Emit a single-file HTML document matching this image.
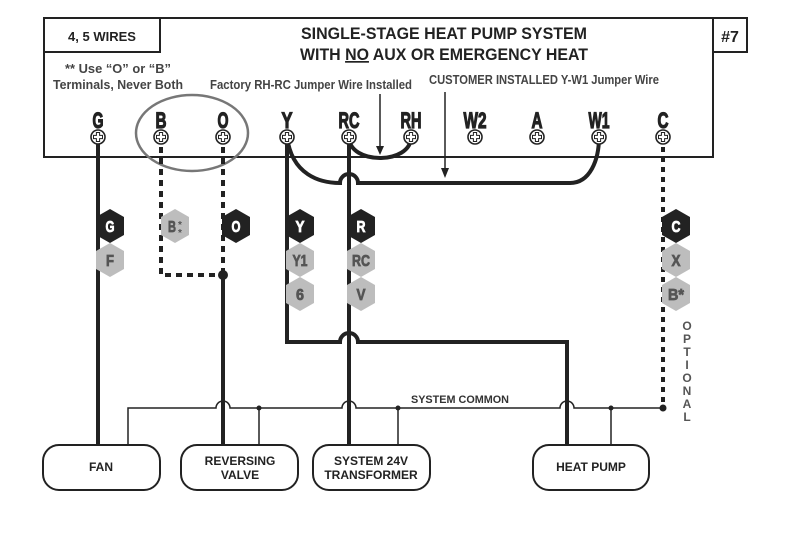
<!DOCTYPE html>
<html><head><style>
html,body{margin:0;padding:0;background:#fff;}
svg{display:block;}
text{font-family:"Liberation Sans",sans-serif;font-weight:bold;}
</style></head><body>
<svg width="812" height="538" viewBox="0 0 812 538" xmlns="http://www.w3.org/2000/svg">
<defs>
<g id="screw"><circle r="7" fill="#fff" stroke="#222" stroke-width="1.6"/><path d="M-1.6,-4.5h3.2v2.9h2.9v3.2h-2.9v2.9h-3.2v-2.9h-2.9v-3.2h2.9z" fill="none" stroke="#222" stroke-width="1"/></g>
<polygon id="hexB" points="0,-17 14,-9 14,9 0,17 -14,9 -14,-9" fill="#222"/>
<polygon id="hexG" points="0,-17 14,-9 14,9 0,17 -14,9 -14,-9" fill="#bdbdbd"/>
</defs>
<rect x="44" y="18" width="669" height="139" fill="none" stroke="#222" stroke-width="2"/>
<rect x="44" y="18" width="116" height="34" fill="none" stroke="#222" stroke-width="2"/>
<rect x="713" y="18" width="34" height="34" fill="none" stroke="#222" stroke-width="2"/>
<text x="102" y="41" font-size="13" text-anchor="middle" fill="#222">4, 5 WIRES</text>
<text x="730" y="42" font-size="16" text-anchor="middle" fill="#222">#7</text>
<text x="444" y="39" font-size="17" text-anchor="middle" fill="#222" textLength="286" lengthAdjust="spacingAndGlyphs">SINGLE-STAGE HEAT PUMP SYSTEM</text>
<text x="444" y="60" font-size="17" text-anchor="middle" fill="#222" textLength="288" lengthAdjust="spacingAndGlyphs">WITH <tspan text-decoration="underline">NO</tspan> AUX OR EMERGENCY HEAT</text>
<g font-size="12.5" fill="#444" text-anchor="middle">
<text x="118" y="73" textLength="106" lengthAdjust="spacingAndGlyphs">** Use “O” or “B”</text>
<text x="118" y="89" textLength="130" lengthAdjust="spacingAndGlyphs">Terminals, Never Both</text>
<text x="311" y="89" textLength="202" lengthAdjust="spacingAndGlyphs">Factory RH-RC Jumper Wire Installed</text>
<text x="544" y="84" textLength="230" lengthAdjust="spacingAndGlyphs">CUSTOMER INSTALLED Y-W1 Jumper Wire</text>
</g>
<g font-size="22" fill="#222" stroke="#222" stroke-width="1.2" text-anchor="middle">
<text x="98" y="128" textLength="11" lengthAdjust="spacingAndGlyphs">G</text>
<text x="161" y="128" textLength="11" lengthAdjust="spacingAndGlyphs">B</text>
<text x="223" y="128" textLength="11" lengthAdjust="spacingAndGlyphs">O</text>
<text x="287" y="128" textLength="11" lengthAdjust="spacingAndGlyphs">Y</text>
<text x="349" y="128" textLength="21" lengthAdjust="spacingAndGlyphs">RC</text>
<text x="411" y="128" textLength="21" lengthAdjust="spacingAndGlyphs">RH</text>
<text x="475" y="128" textLength="23" lengthAdjust="spacingAndGlyphs">W2</text>
<text x="537" y="128" textLength="11" lengthAdjust="spacingAndGlyphs">A</text>
<text x="599" y="128" textLength="21" lengthAdjust="spacingAndGlyphs">W1</text>
<text x="663" y="128" textLength="11" lengthAdjust="spacingAndGlyphs">C</text>
</g>
<ellipse cx="192" cy="133" rx="56" ry="38" fill="none" stroke="#777" stroke-width="2.5"/>
<line x1="380" y1="94" x2="380" y2="150" stroke="#222" stroke-width="1.5"/>
<polygon points="376,146 384,146 380,155" fill="#222"/>
<line x1="445" y1="92" x2="445" y2="172" stroke="#222" stroke-width="1.5"/>
<polygon points="441,168 449,168 445,178" fill="#222"/>
<g fill="none" stroke="#222" stroke-linecap="butt">
<line x1="98" y1="140" x2="98" y2="447" stroke-width="4"/>
<path d="M161,147 V275 H223" stroke-width="4" stroke-dasharray="6,5"/>
<line x1="223" y1="147" x2="223" y2="275" stroke-width="4" stroke-dasharray="6,5"/>
<line x1="223" y1="275" x2="223" y2="447" stroke-width="4"/>
<path d="M349,137 C349,165 411,165 411,137" stroke-width="4"/>
<path d="M287,137 C292,175 320,183 340,183 A9,9 0 0 1 358,183 H570 C590,183 599,160 599,137" stroke-width="4"/>
<line x1="349" y1="137" x2="349" y2="447" stroke-width="4"/>
<path d="M287,137 V342 H340 A9,9 0 0 1 358,342 H567 V447" stroke-width="4"/>
<line x1="663" y1="147" x2="663" y2="408" stroke-width="4" stroke-dasharray="5,5"/>
<path d="M128,445 V408 H216 A7,7 0 0 1 230,408 H342 A7,7 0 0 1 356,408 H560 A7,7 0 0 1 574,408 H663" stroke-width="1.5"/>
<line x1="259" y1="408" x2="259" y2="445" stroke-width="1.5"/>
<line x1="398" y1="408" x2="398" y2="445" stroke-width="1.5"/>
<line x1="611" y1="408" x2="611" y2="445" stroke-width="1.5"/>
</g>
<circle cx="223" cy="275" r="5" fill="#222"/>
<circle cx="259" cy="408" r="2.5" fill="#222"/>
<circle cx="398" cy="408" r="2.5" fill="#222"/>
<circle cx="611" cy="408" r="2.5" fill="#222"/>
<circle cx="663" cy="408" r="3.5" fill="#222"/>
<text x="460" y="403" font-size="11" text-anchor="middle" fill="#333" textLength="98" lengthAdjust="spacingAndGlyphs">SYSTEM COMMON</text>
<use href="#screw" x="98" y="137"/><use href="#screw" x="161" y="137"/><use href="#screw" x="223" y="137"/>
<use href="#screw" x="287" y="137"/><use href="#screw" x="349" y="137"/><use href="#screw" x="411" y="137"/>
<use href="#screw" x="475" y="137"/><use href="#screw" x="537" y="137"/><use href="#screw" x="599" y="137"/>
<use href="#screw" x="663" y="137"/>
<use href="#hexB" x="110" y="226"/><use href="#hexG" x="110" y="260"/>
<use href="#hexG" x="175" y="226"/>
<use href="#hexB" x="236" y="226"/>
<use href="#hexB" x="300" y="226"/><use href="#hexG" x="300" y="260"/><use href="#hexG" x="300" y="294"/>
<use href="#hexB" x="361" y="226"/><use href="#hexG" x="361" y="260"/><use href="#hexG" x="361" y="294"/>
<use href="#hexB" x="676" y="226"/><use href="#hexG" x="676" y="260"/><use href="#hexG" x="676" y="294"/>
<g font-size="16" text-anchor="middle" stroke-width="0.8">
<text x="110" y="232" fill="#fff" stroke="#fff" textLength="9" lengthAdjust="spacingAndGlyphs">G</text>
<text x="110" y="266" fill="#555" stroke="#555" textLength="8" lengthAdjust="spacingAndGlyphs">F</text>
<text x="172" y="232" fill="#555" stroke="#555" textLength="8" lengthAdjust="spacingAndGlyphs">B</text>
<text x="180" y="228" fill="#555" font-size="10">*</text>
<text x="180" y="236" fill="#555" font-size="10">*</text>
<text x="236" y="232" fill="#fff" stroke="#fff" textLength="9" lengthAdjust="spacingAndGlyphs">O</text>
<text x="300" y="232" fill="#fff" stroke="#fff" textLength="9" lengthAdjust="spacingAndGlyphs">Y</text>
<text x="300" y="266" fill="#555" stroke="#555" textLength="15" lengthAdjust="spacingAndGlyphs">Y1</text>
<text x="300" y="300" fill="#555" stroke="#555" textLength="8" lengthAdjust="spacingAndGlyphs">6</text>
<text x="361" y="232" fill="#fff" stroke="#fff" textLength="9" lengthAdjust="spacingAndGlyphs">R</text>
<text x="361" y="266" fill="#555" stroke="#555" textLength="18" lengthAdjust="spacingAndGlyphs">RC</text>
<text x="361" y="300" fill="#555" stroke="#555" textLength="9" lengthAdjust="spacingAndGlyphs">V</text>
<text x="676" y="232" fill="#fff" stroke="#fff" textLength="9" lengthAdjust="spacingAndGlyphs">C</text>
<text x="676" y="266" fill="#555" stroke="#555" textLength="9" lengthAdjust="spacingAndGlyphs">X</text>
<text x="676" y="300" fill="#555" stroke="#555" textLength="16" lengthAdjust="spacingAndGlyphs">B*</text>
</g>
<g font-size="12" fill="#555" text-anchor="middle">
<text x="687" y="330">O</text><text x="687" y="343">P</text><text x="687" y="356">T</text><text x="687" y="369">I</text>
<text x="687" y="382">O</text><text x="687" y="395">N</text><text x="687" y="408">A</text><text x="687" y="421">L</text>
</g>
<g fill="#fff" stroke="#222" stroke-width="2">
<rect x="43" y="445" width="117" height="45" rx="16"/>
<rect x="181" y="445" width="117" height="45" rx="16"/>
<rect x="313" y="445" width="117" height="45" rx="16"/>
<rect x="533" y="445" width="116" height="45" rx="16"/>
</g>
<g font-size="12" text-anchor="middle" fill="#222">
<text x="101" y="471">FAN</text>
<text x="240" y="465">REVERSING</text><text x="240" y="479">VALVE</text>
<text x="371" y="465">SYSTEM 24V</text><text x="371" y="479">TRANSFORMER</text>
<text x="591" y="471">HEAT PUMP</text>
</g>
</svg>
</body></html>
